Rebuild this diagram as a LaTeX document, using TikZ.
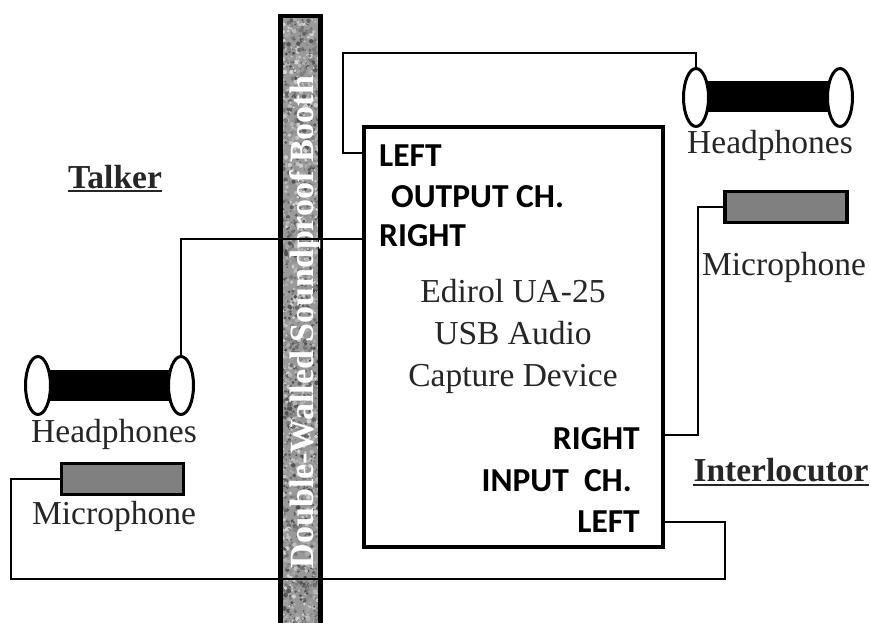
\documentclass[tikz,border=0pt]{standalone}
\usepackage{fontspec}
\setmainfont{Liberation Serif}
\newfontfamily\lblfont{Carlito}
\usetikzlibrary{shapes.geometric}
\definecolor{micgray}{gray}{0.5}
\tikzset{
  wire/.style={draw=black,line width=2.2pt,line join=miter},
  cup/.style={ellipse,draw=black,fill=white,line width=3pt,minimum width=25pt,minimum height=58pt,inner sep=0pt},
  band/.style={fill=black,draw=none,minimum height=31pt,inner sep=0pt},
  mic/.style={draw=black,fill=micgray,line width=3.5pt,minimum width=122pt,minimum height=31pt,inner sep=0pt},
  serif/.style={font=\fontsize{33.5}{38}\selectfont,inner sep=0pt,text=black!85},
  port/.style={font=\lblfont\bfseries\fontsize{33.5}{36}\selectfont,inner sep=0pt,anchor=base west},
  device/.style={draw=black,fill=white,line width=3.5pt,minimum width=299pt,minimum height=420pt,inner sep=0pt},
  title/.style={font=\bfseries\fontsize{33.5}{38}\selectfont,inner sep=0pt,text=black!85},
  underbar/.style={line width=2pt,draw=black!85}
}
\begin{document}
\begin{tikzpicture}[x=1pt,y=-1pt]
\useasboundingbox (0,0) rectangle (870,623);
\fill[white] (0,0) rectangle (870,623);
% wall with stone-like texture
\begin{scope}
\clip (279,15) rectangle (322,623);
\fill[black!40] (279,15) rectangle (322,623);
\pgfmathsetseed{7}
\foreach \i in {1,...,2600}{
  \pgfmathsetmacro{\px}{279+43*rnd}
  \pgfmathsetmacro{\py}{15+608*rnd}
  \pgfmathsetmacro{\pr}{0.7+1.7*rnd}
  \pgfmathsetmacro{\pg}{16+54*rnd}
  \fill[black!\pg!white] (\px,\py) circle[radius=\pr];
}
\end{scope}
\node[draw=black,line width=4.5pt,minimum width=40pt,minimum height=610pt,inner sep=0pt] (wall) at (300.5,321) {};
\node[rotate=90,text=white,inner sep=0pt,font=\bfseries\fontsize{34}{38}\selectfont] (walltext) at (305,322) {Double-Walled Soundproof Booth};
% device
\node[device] (dev) at (513.5,337) {};
\node[port] (lleft) at (379,166) {LEFT};
\node[port] (lout) at (391,207) {OUTPUT CH.};
\node[port] (lright) at (379,246) {RIGHT};
\node[port,anchor=base east] (iright) at (640,449) {RIGHT};
\node[port,anchor=base east] (iinch) at (632,491) {INPUT~~CH.};
\node[port,anchor=base east] (ileft) at (640,532) {LEFT};
\node[serif,align=center,font=\fontsize{33.5}{42}\selectfont] (devname) at (513,336) {Edirol UA-25\\USB Audio\\Capture Device};
% right headphones
\node[band,minimum width=135pt] (hpRband) at (768,97) {};
\node[cup] (hpRa) at (696,97.5) {};
\node[cup] (hpRb) at (840,97.5) {};
\node[serif] (hpRtext) at (770,145) {Headphones};
% right microphone
\node[mic] (micR) at (786,207) {};
\node[serif] (micRtext) at (784,267) {Microphone};
% left headphones
\node[band,minimum width=135pt] (hpLband) at (110,385.5) {};
\node[cup] (hpLa) at (38,385.5) {};
\node[cup] (hpLb) at (181,385.5) {};
\node[serif] (hpLtext) at (114,434) {Headphones};
% left microphone
\node[mic] (micL) at (122.5,479) {};
\node[serif] (micLtext) at (114,516) {Microphone};
% titles
\node[title] (talker) at (115,177) {Talker};
\draw[underbar] (talker.south west |- 0,191) -- (talker.south east |- 0,191);
\node[title] (inter) at (781,470) {Interlocutor};
\draw[underbar] (inter.south west |- 0,485) -- (inter.south east |- 0,485);
% connectors
\coordinate (outL) at (dev.west |- 0,153);
\coordinate (outR) at (dev.west |- 0,239);
\coordinate (inR) at (dev.east |- 0,435);
\coordinate (inL) at (dev.east |- 0,522);
\coordinate (tOutL) at (343,53);
\coordinate (wL) at (11,579);
\coordinate (wR) at (725,579);
\draw[wire] (outL) -| (tOutL) -| (hpRa.north);
\draw[wire] (outR) -| (hpLb.north);
\draw[wire] (micR.west) -| (698,300) |- (inR);
\draw[wire,line width=2.8pt] (micL.west) -| (wL) -- (wR) |- (inL);
\end{tikzpicture}
\end{document}
